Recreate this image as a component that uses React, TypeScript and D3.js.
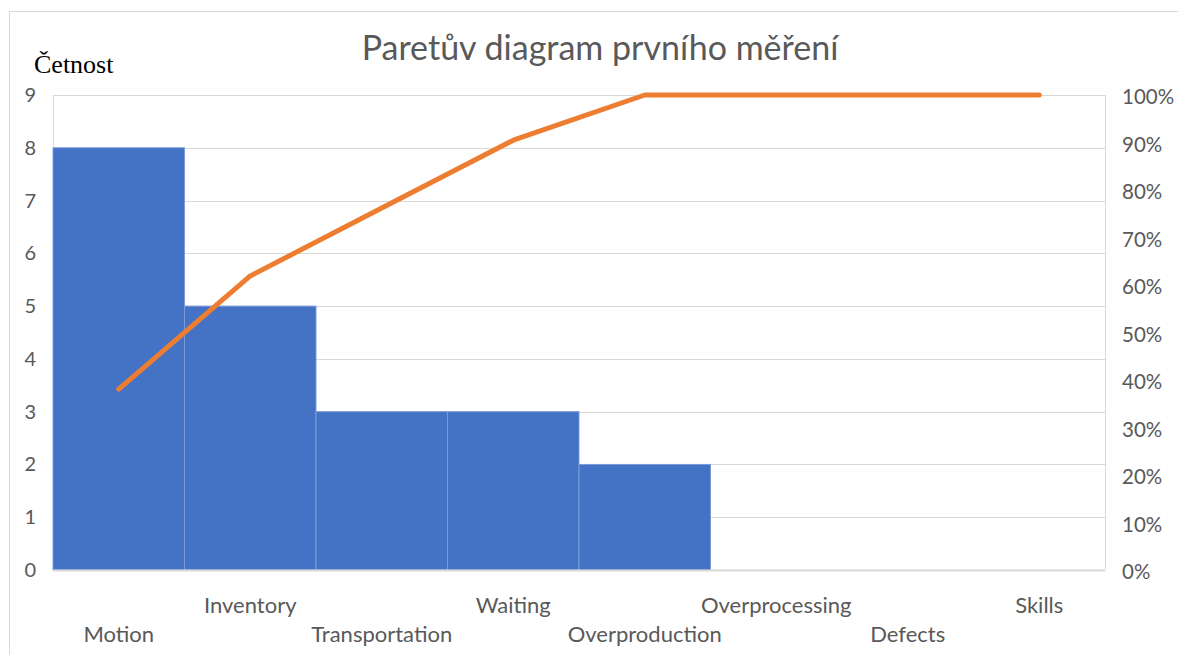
import * as d3 from 'd3';
import { useEffect, useRef } from 'react';

const categories = ['Motion', 'Inventory', 'Transportation', 'Waiting', 'Overproduction', 'Overprocessing', 'Defects', 'Skills'];
const counts = [8, 5, 3, 3, 2, 0, 0, 0];
const countTicks = [0, 1, 2, 3, 4, 5, 6, 7, 8, 9];
const percentTicks = [0, 0.1, 0.2, 0.3, 0.4, 0.5, 0.6, 0.7, 0.8, 0.9, 1];

const width = 1178;
const height = 655;
const margin = { top: 95, left: 53, bottom: 85, right: 73 };
const font = 'Lato, Calibri, sans-serif';

function App() {
  const ref = useRef<SVGSVGElement>(null);

  useEffect(() => {
    const svg = d3.select(ref.current);
    svg.selectAll('*').remove();

    const total = d3.sum(counts);
    const cumulative = d3.cumsum(counts).map((v) => v / total);

    const x = d3
      .scaleBand()
      .domain(categories)
      .range([margin.left, width - margin.right])
      .padding(0);
    const y = d3
      .scaleLinear()
      .domain([0, 9])
      .range([height - margin.bottom, margin.top]);
    const yPct = d3
      .scaleLinear()
      .domain([0, 1])
      .range([height - margin.bottom, margin.top]);

    // outer chart border
    svg
      .append('rect')
      .attr('x', 9.5)
      .attr('y', 11.5)
      .attr('width', width + 20)
      .attr('height', height + 20)
      .attr('fill', 'none')
      .attr('stroke', '#d9d9d9');

    // gridlines
    svg
      .append('g')
      .selectAll('line')
      .data(countTicks.slice(1))
      .join('line')
      .attr('x1', margin.left)
      .attr('x2', width - margin.right)
      .attr('y1', (d) => Math.round(y(d)) + 0.5)
      .attr('y2', (d) => Math.round(y(d)) + 0.5)
      .attr('stroke', '#d9d9d9');

    // plot side lines
    svg
      .append('g')
      .selectAll('line')
      .data([margin.left, width - margin.right])
      .join('line')
      .attr('x1', (d) => d + 0.5)
      .attr('x2', (d) => d + 0.5)
      .attr('y1', margin.top)
      .attr('y2', height - margin.bottom)
      .attr('stroke', '#d9d9d9');

    // bars
    svg
      .append('g')
      .selectAll('rect')
      .data(categories.map((c, i) => ({ c, v: counts[i] })).filter((d) => d.v > 0))
      .join('rect')
      .attr('x', (d) => x(d.c) || 0)
      .attr('y', (d) => y(d.v))
      .attr('width', x.bandwidth())
      .attr('height', (d) => y(0) - y(d.v))
      .attr('fill', '#4472c4')
      .attr('stroke', '#7b9bd6')
      .attr('stroke-width', 1);

    // x axis line
    svg
      .append('line')
      .attr('x1', margin.left)
      .attr('x2', width - margin.right)
      .attr('y1', y(0) + 0.5)
      .attr('y2', y(0) + 0.5)
      .attr('stroke', '#d9d9d9')
      .attr('stroke-width', 2);

    // cumulative line
    const line = d3
      .line<number>()
      .x((_, i) => (x(categories[i]) || 0) + x.bandwidth() / 2)
      .y((d) => yPct(d));
    svg
      .append('path')
      .datum(cumulative)
      .attr('d', line)
      .attr('fill', 'none')
      .attr('stroke', '#ed7d31')
      .attr('stroke-width', 5)
      .attr('stroke-linejoin', 'round')
      .attr('stroke-linecap', 'round');

    // left tick labels
    svg
      .append('g')
      .selectAll('text')
      .data(countTicks)
      .join('text')
      .attr('x', 36)
      .attr('y', (d) => y(d))
      .attr('dy', '0.35em')
      .attr('text-anchor', 'end')
      .attr('font-family', font)
      .attr('font-size', 20)
      .attr('fill', '#595959')
      .text((d) => d);

    // right tick labels
    svg
      .append('g')
      .selectAll('text')
      .data(percentTicks)
      .join('text')
      .attr('x', 1122)
      .attr('y', (d) => yPct(d) + 2)
      .attr('dy', '0.35em')
      .attr('font-family', font)
      .attr('font-size', 20.5)
      .attr('fill', '#595959')
      .text((d) => d3.format('.0%')(d));

    // category labels (staggered)
    svg
      .append('g')
      .selectAll('text')
      .data(categories)
      .join('text')
      .attr('x', (d) => (x(d) || 0) + x.bandwidth() / 2)
      .attr('y', (_, i) => (i % 2 === 0 ? 634 : 605))
      .attr('dy', '0.35em')
      .attr('text-anchor', 'middle')
      .attr('font-family', font)
      .attr('font-size', 22)
      .attr('fill', '#595959')
      .text((d) => d);

    // title
    svg
      .append('text')
      .attr('x', 600)
      .attr('y', 48)
      .attr('dy', '0.35em')
      .attr('text-anchor', 'middle')
      .attr('font-family', font)
      .attr('font-size', 34)
      .attr('fill', '#595959')
      .text('Paretův diagram prvního měření');

    // y axis title
    svg
      .append('text')
      .attr('x', 34)
      .attr('y', 64)
      .attr('dy', '0.35em')
      .attr('font-family', '"Liberation Serif", "Times New Roman", serif')
      .attr('font-size', 26)
      .attr('fill', '#000')
      .text('Četnost');
  }, []);

  return (
    <svg
      ref={ref}
      width={width}
      height={height}
      style={{ position: 'absolute', left: 0, top: 0, background: '#fff' }}
    />
  );
}

export default App;
